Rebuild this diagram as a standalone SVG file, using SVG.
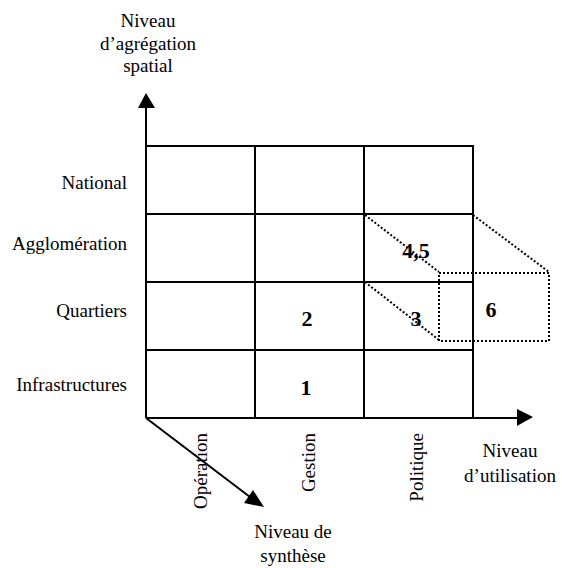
<svg xmlns="http://www.w3.org/2000/svg" width="562" height="568" viewBox="0 0 562 568">
<style>
text.t{font-family:"Liberation Serif","Times New Roman",serif;font-size:19px;fill:#000}
text.b{font-family:"Liberation Serif","Times New Roman",serif;font-size:22px;font-weight:bold;fill:#000}
.g{stroke:#000;stroke-width:2;fill:none}
.d{stroke:#000;stroke-width:2;stroke-dasharray:2 2;fill:none}
</style>
<rect width="562" height="568" fill="#fff"/>
<g id="grid">
<path class="g" d="M146 146H473V418M146 214H473M146 282H473M146 350H473M255 146V418M364 146V418"/>
</g>
<g id="connectors">
<path class="g" d="M146 418V106"/>
<polygon points="146,93 138,108 155,108" fill="#000"/>
<path class="g" d="M146 418H518"/>
<polygon points="533,417 517,409 517,426" fill="#000"/>
<path class="g" stroke-width="1.5" d="M146 418L250 497"/>
<polygon points="264,507 244,503 253,490" fill="#000"/>
<path class="d" d="M365 215L439 272M473 215L549 272M365 282L439 340"/>
</g>
<g id="box6">
<rect x="439" y="273" width="110" height="68" fill="#fff" class="d"/>
<text class="b" x="491" y="317" text-anchor="middle">6</text>
</g>
<g id="cells">
<text class="b" x="416" y="258" text-anchor="middle">4,5</text>
<text class="b" x="416" y="326" text-anchor="middle">3</text>
<text class="b" x="307" y="326" text-anchor="middle">2</text>
<text class="b" x="306" y="395" text-anchor="middle">1</text>
</g>
<g id="rowlabels">
<text class="t" x="127" y="189" text-anchor="end">National</text>
<text class="t" x="127" y="250" text-anchor="end">Agglomération</text>
<text class="t" x="127" y="317" text-anchor="end">Quartiers</text>
<text class="t" x="127" y="391" text-anchor="end">Infrastructures</text>
</g>
<g id="collabels">
<text class="t" text-anchor="end" transform="translate(207,433) rotate(-90)">Opération</text>
<text class="t" text-anchor="end" transform="translate(315,433) rotate(-90)">Gestion</text>
<text class="t" text-anchor="end" transform="translate(423,433) rotate(-90)">Politique</text>
</g>
<g id="yaxis-label">
<text class="t" x="148" y="27" text-anchor="middle">Niveau</text>
<text class="t" x="148" y="50" text-anchor="middle">d’agrégation</text>
<text class="t" x="148" y="72" text-anchor="middle">spatial</text>
</g>
<g id="xaxis-label">
<text class="t" x="510" y="457" text-anchor="middle">Niveau</text>
<text class="t" x="510" y="482" text-anchor="middle">d’utilisation</text>
</g>
<g id="zaxis-label">
<text class="t" x="293" y="538" text-anchor="middle">Niveau de</text>
<text class="t" x="293" y="562" text-anchor="middle">synthèse</text>
</g>
</svg>
